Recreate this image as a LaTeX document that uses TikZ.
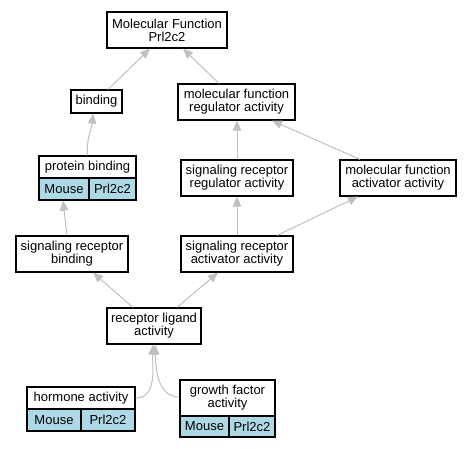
\documentclass[tikz,border=0pt]{standalone}
\usepackage{fontspec}
\setmainfont{Liberation Sans}
\usetikzlibrary{arrows.meta}
\definecolor{cellblue}{RGB}{173,216,230}
\definecolor{edgegray}{RGB}{192,192,192}
\tikzset{
  term/.style={draw=black, line width=1.2pt, fill=white, inner sep=0pt, align=center,
    font=\fontsize{13}{13}\selectfont},
  cell/.style={term, fill=cellblue},
  isa/.style={draw=edgegray, line width=1pt, -{Triangle[length=10pt,width=8.5pt]}},
}
\begin{document}
\begin{tikzpicture}[x=1pt, y=1pt]
\useasboundingbox (0,0) rectangle (471,-448);
% terms
\node[term, minimum width=120, minimum height=36] (mf) at (167,-30) {Molecular Function\\Prl2c2};
\node[term, minimum width=51, minimum height=23] (binding) at (96.5,-101.5) {binding};
\node[term, minimum width=117, minimum height=36] (mfreg) at (236.5,-102) {molecular function\\regulator activity};
\node[term, minimum width=97, minimum height=22] (pb) at (87.5,-167) {protein binding};
\node[cell, minimum width=50, minimum height=22] (pbmouse) at (64,-189) {Mouse};
\node[cell, minimum width=47, minimum height=22] (pbgene) at (112.5,-189) {Prl2c2};
\node[term, minimum width=112, minimum height=36] (srra) at (237,-178) {signaling receptor\\regulator activity};
\node[term, minimum width=116, minimum height=36] (mfaa) at (398,-178) {molecular function\\activator activity};
\node[term, minimum width=112, minimum height=36] (srb) at (72,-254) {signaling receptor\\binding};
\node[term, minimum width=112, minimum height=36] (sraa) at (237,-254) {signaling receptor\\activator activity};
\node[term, minimum width=94, minimum height=36] (rla) at (154,-326) {receptor ligand\\activity};
\node[term, minimum width=108, minimum height=22] (hormone) at (81,-398) {hormone activity};
\node[cell, minimum width=54, minimum height=22] (hmouse) at (54,-420) {Mouse};
\node[cell, minimum width=54, minimum height=22] (hgene) at (108,-420) {Prl2c2};
\node[term, minimum width=95, minimum height=36] (growth) at (227.5,-398) {growth factor\\activity};
\node[cell, minimum width=49, minimum height=21] (gmouse) at (204.5,-426.5) {Mouse};
\node[cell, minimum width=46, minimum height=21] (ggene) at (252,-426.5) {Prl2c2};
% is_a edges
\draw[isa] ([xshift=11.5pt]binding.north) -- ([xshift=-17pt]mf.south);
\draw[isa] ([xshift=-17.5pt]mfreg.north) -- ([xshift=16pt]mf.south);
\draw[isa] (pb.north) to[out=95,in=-95] ([xshift=-3.5pt]binding.south);
\draw[isa] (srra.north) -- (srra.north |- mfreg.south);
\draw[isa] ([xshift=-38pt]mfaa.north) -- ([xshift=35.5pt]mfreg.south);
\draw[isa] ([xshift=-5pt]srb.north) -- ([xshift=-1pt]pbmouse.south);
\draw[isa] (sraa.north) -- (srra.south);
\draw[isa] ([xshift=40pt]sraa.north) -- ([xshift=-40pt]mfaa.south);
\draw[isa] ([xshift=-21pt]rla.north) -- ([xshift=21pt]srb.south);
\draw[isa] ([xshift=23pt]rla.north) -- ([xshift=-19pt]sraa.south);
\draw[isa] (hormone.east) to[out=0,in=-92] ([xshift=-1pt]rla.south);
\draw[isa] ([yshift=1pt]growth.west) to[out=180,in=-88] ([xshift=1pt]rla.south);
\end{tikzpicture}
\end{document}
